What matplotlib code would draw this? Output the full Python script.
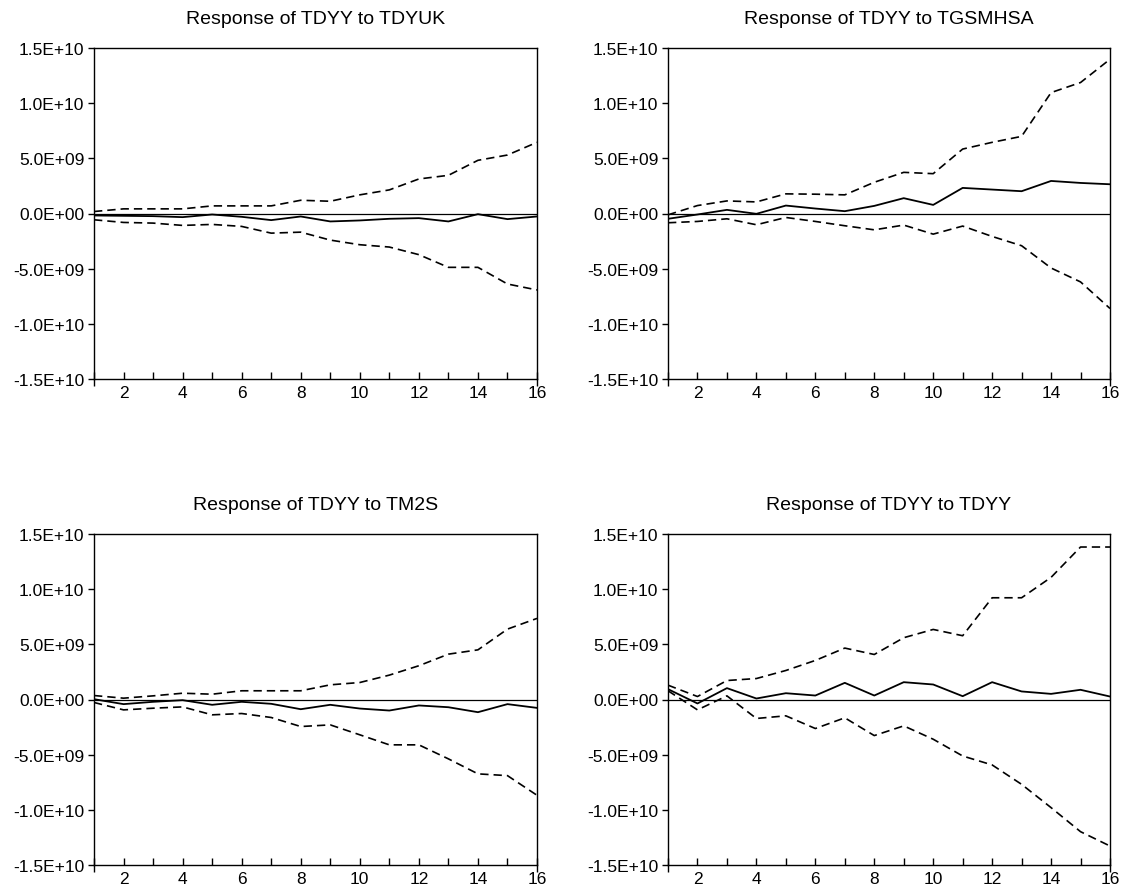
import numpy as np
import matplotlib
matplotlib.use('Agg')
import matplotlib.pyplot as plt
from matplotlib.ticker import FuncFormatter, MultipleLocator

plt.rcParams['font.family'] = ['Liberation Sans', 'DejaVu Sans']

# Periodos de la respuesta impulso
periods = np.arange(1, 17)

titles = ['Response of TDYY to TDYUK', 'Response of TDYY to TGSMHSA',
          'Response of TDYY to TM2S', 'Response of TDYY to TDYY']

# Valores en unidades de 1E+09
tdyuk_resp = [-0.18, -0.21, -0.24, -0.33, -0.09, -0.30, -0.60, -0.27,
              -0.72, -0.63, -0.48, -0.42, -0.72, -0.06, -0.51, -0.27]
tdyuk_up = [0.18, 0.42, 0.42, 0.42, 0.69, 0.69, 0.69, 1.20,
            1.11, 1.69, 2.14, 3.13, 3.46, 4.82, 5.30, 6.45]
tdyuk_lo = [-0.57, -0.81, -0.87, -1.08, -0.99, -1.17, -1.78, -1.69,
            -2.41, -2.83, -3.04, -3.73, -4.88, -4.88, -6.39, -6.93]

tgsm_resp = [-0.48, -0.09, 0.33, -0.03, 0.72, 0.45, 0.21, 0.69,
             1.39, 0.78, 2.32, 2.17, 2.02, 2.95, 2.77, 2.65]
tgsm_up = [-0.12, 0.72, 1.14, 1.05, 1.78, 1.75, 1.69, 2.83,
           3.73, 3.61, 5.84, 6.45, 6.99, 10.96, 11.87, 13.98]
tgsm_lo = [-0.84, -0.72, -0.48, -1.02, -0.36, -0.72, -1.11, -1.48,
           -1.05, -1.87, -1.14, -2.08, -2.92, -4.94, -6.20, -8.61]

tm2s_resp = [0.03, -0.42, -0.21, -0.06, -0.48, -0.21, -0.39, -0.88,
             -0.48, -0.82, -1.00, -0.54, -0.70, -1.15, -0.42, -0.76]
tm2s_up = [0.36, 0.12, 0.33, 0.57, 0.48, 0.79, 0.79, 0.79,
           1.33, 1.54, 2.21, 3.06, 4.11, 4.50, 6.38, 7.35]
tm2s_lo = [-0.27, -0.94, -0.79, -0.67, -1.39, -1.27, -1.63, -2.45,
           -2.30, -3.20, -4.11, -4.11, -5.38, -6.74, -6.90, -8.68]

tdyy_resp = [0.94, -0.36, 1.03, 0.09, 0.57, 0.36, 1.51, 0.36,
             1.57, 1.36, 0.30, 1.57, 0.73, 0.51, 0.88, 0.27]
tdyy_up = [1.30, 0.27, 1.72, 1.90, 2.63, 3.54, 4.66, 4.08,
           5.60, 6.35, 5.78, 9.22, 9.22, 11.07, 13.82, 13.82]
tdyy_lo = [0.79, -0.94, 0.33, -1.72, -1.48, -2.63, -1.66, -3.27,
           -2.39, -3.60, -5.12, -5.93, -7.69, -9.80, -11.98, -13.28]

series = [(tdyuk_resp, tdyuk_up, tdyuk_lo),
          (tgsm_resp, tgsm_up, tgsm_lo),
          (tm2s_resp, tm2s_up, tm2s_lo),
          (tdyy_resp, tdyy_up, tdyy_lo)]

fig = plt.figure(figsize=(11.32, 8.95), dpi=100)
W, H = 1132, 895
boxes = [(94, 49, 537, 380), (668, 49, 1110, 380),
         (94, 535, 537, 866), (668, 535, 1110, 866)]

fmt = FuncFormatter(lambda v, p: f"{v:.1E}")

for (l, t, r, b), title, (resp, up, lo) in zip(boxes, titles, series):
    ax = fig.add_axes([l / W, 1 - b / H, (r - l) / W, (b - t) / H])
    ax.plot(periods, np.array(resp) * 1e9, color='black', lw=1.3)
    ax.plot(periods, np.array(up) * 1e9, color='black', lw=1.2, dashes=(5, 3))
    ax.plot(periods, np.array(lo) * 1e9, color='black', lw=1.2, dashes=(5, 3))
    ax.axhline(0, color='black', lw=0.9)

    ax.set_xlim(1, 16)
    ax.set_ylim(-1.5e10, 1.5e10)
    ax.set_yticks(np.arange(-1.5e10, 1.6e10, 5e9))
    ax.yaxis.set_major_formatter(fmt)
    ax.xaxis.set_major_locator(MultipleLocator(2))
    ax.xaxis.set_minor_locator(MultipleLocator(1))
    ax.tick_params(axis='y', direction='out', length=4, width=1, labelsize=12.5, pad=3)
    ax.tick_params(axis='x', which='both', direction='in', length=5, width=1,
                   labelsize=12.5, pad=4)
    for s in ax.spines.values():
        s.set_linewidth(1.0)
    ax.set_title(title, fontsize=14, pad=18)

    # los extremos del eje x llevan la marca hacia afuera
    fig.canvas.draw()
    for tk in ax.xaxis.get_minor_ticks() + ax.xaxis.get_major_ticks():
        if tk.get_loc() in (1, 16):
            tk.tick1line.set_marker('|')
            tk.tick1line.set_markersize(10)

plt.savefig('out.png', dpi=100)
